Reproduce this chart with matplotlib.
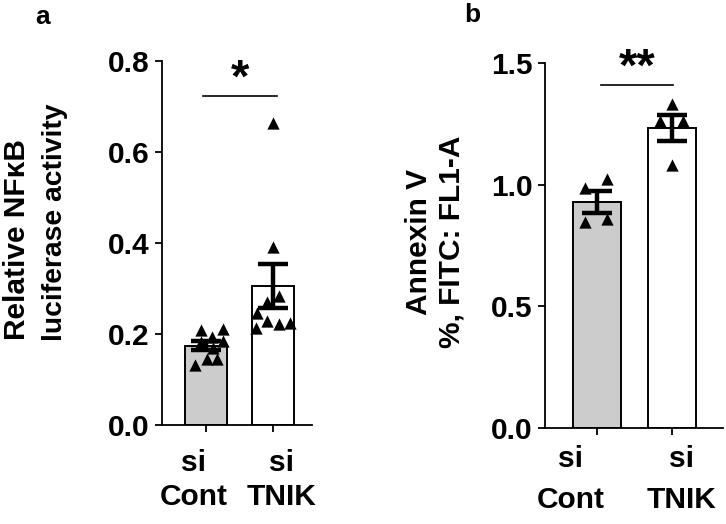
import matplotlib
matplotlib.use("Agg")
import matplotlib.pyplot as plt
import numpy as np

plt.rcParams['font.family'] = ['Liberation Sans', 'DejaVu Sans']
plt.rcParams['font.weight'] = 'bold'

groups = ["si\nCont", "si\nTNIK"]

# panel a: relative NF-kB luciferase activity
a_cont = [0.209, 0.211, 0.193, 0.185, 0.132, 0.145, 0.145, 0.183, 0.169]
a_tnik = [0.664, 0.392, 0.271, 0.284, 0.246, 0.213, 0.229, 0.222, 0.225]
# panel b: annexin V
b_cont = [0.985, 1.022, 0.845, 0.858]
b_tnik = [1.33, 1.26, 1.26, 1.08]

# horizontal jitter of the dots
jit_a_cont = [-0.08, 0.25, 0.09, 0.25, -0.16, 0.01, 0.17, -0.07, 0.10]
jit_a_tnik = [0.0, 0.0, -0.09, 0.09, -0.24, -0.25, -0.09, 0.085, 0.25]
jit_b_cont = [-0.16, 0.14, -0.16, 0.14]
jit_b_tnik = [0.0, -0.16, 0.15, 0.0]

fs = 21.5


def panel(ax, data, jits, ylim, yticks, width, xlim, sig, sig_y, sig_x,
          lab_x, lab_off, lab_ls):
    means = [np.mean(d) for d in data]
    sems = [np.std(d, ddof=1) / np.sqrt(len(d)) for d in data]
    x = np.arange(len(data))
    ax.bar(x, means, width=width, color=['#cccccc', 'white'],
           edgecolor='black', linewidth=1.4, zorder=2)
    for i, (d, j) in enumerate(zip(data, jits)):
        ax.scatter(i + np.array(j), d, marker='^', s=78, color='black',
                   linewidths=0, zorder=3, clip_on=False)
    ax.errorbar(x, means, yerr=sems, fmt='none', ecolor='black',
                elinewidth=3.2, capsize=11, capthick=3.2, zorder=4)
    ax.set_xlim(*xlim)
    ax.set_ylim(*ylim)
    ax.set_yticks(yticks)
    ax.set_yticklabels(["%.1f" % t for t in yticks])
    ax.set_xticks(x)
    ax.set_xticklabels([])
    for s in ['top', 'right']:
        ax.spines[s].set_visible(False)
    for s in ['left', 'bottom']:
        ax.spines[s].set_linewidth(1.3)
    ax.tick_params(labelsize=fs, width=1.3, length=5, pad=4)
    # group labels sit a little off the ticks in the original
    for g, lx in zip(groups, lab_x):
        ax.annotate(g, xy=(lx, 0), xycoords=ax.get_xaxis_transform(),
                    xytext=(0, lab_off), textcoords='offset points',
                    ha='center', va='top', fontsize=fs, fontweight='bold',
                    linespacing=lab_ls, annotation_clip=False)
    ax.plot(sig_x, [sig_y, sig_y], color='black', lw=1.2, clip_on=False)
    ax.annotate(sig, xy=(np.mean(sig_x), sig_y), xytext=(0, -4),
                textcoords='offset points', ha='center', va='bottom',
                fontsize=34, fontweight='bold', annotation_clip=False)


fig = plt.figure(figsize=(7.26, 5.24), dpi=100)

ax1 = fig.add_axes([0.2231, 0.1889, 0.2067, 0.6947])
panel(ax1, [a_cont, a_tnik], [jit_a_cont, jit_a_tnik], (0, 0.8),
      [0.0, 0.2, 0.4, 0.6, 0.8], 0.64, (-0.657, 1.582), '*', 0.723,
      [-0.04, 1.06], [-0.18, 1.12], -17.5, 1.28)

ax2 = fig.add_axes([0.7507, 0.1832, 0.2452, 0.6966])
panel(ax2, [b_cont, b_tnik], [jit_b_cont, jit_b_tnik], (0, 1.5),
      [0.0, 0.5, 1.0, 1.5], 0.65, (-0.693, 1.68), '**', 1.41,
      [0.06, 1.01], [-0.35, 1.13], -12.5, 1.58)

# y label of panel a: two lines, left aligned
fig.text(25 / 726, 1 - 340 / 524, "Relative NF\u03baB", rotation=90,
         rotation_mode='anchor', ha='left', va='baseline',
         fontsize=fs, fontweight='bold')
fig.text(62 / 726, 1 - 341 / 524, "luciferase activity", rotation=90,
         rotation_mode='anchor', ha='left', va='baseline',
         fontsize=20.3, fontweight='bold')
fig.text(0.599, 1 - 242 / 524, "Annexin V\n%, FITC: FL1-A", rotation=90,
         ha='center', va='center', fontsize=fs, fontweight='bold',
         linespacing=1.2)

fig.text(0.058, 0.967, "a", ha='center', va='center', fontsize=19,
         fontweight='bold')
fig.text(0.65, 0.972, "b", ha='center', va='center', fontsize=19,
         fontweight='bold')

fig.savefig("out.png", dpi=100)
